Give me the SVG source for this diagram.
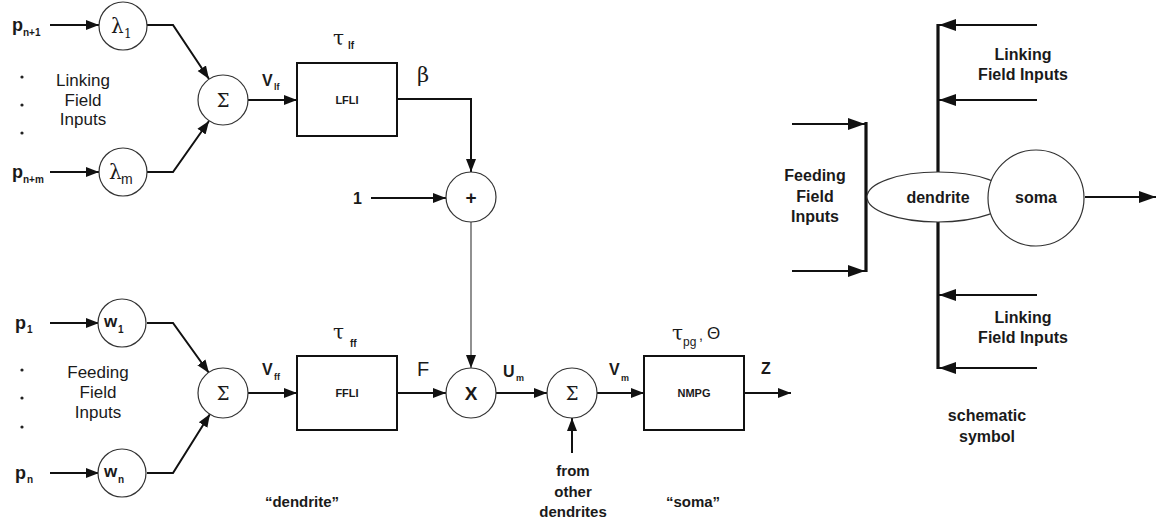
<svg xmlns="http://www.w3.org/2000/svg" width="1157" height="524" viewBox="0 0 1157 524">
  <style>
    .bg { fill: #ffffff; }
    .node { fill: #ffffff; stroke: #333333; stroke-width: 1.2; }
    .box { fill: #ffffff; stroke: #111111; stroke-width: 2; }
    .wire { fill: none; stroke: #111111; stroke-width: 2; }
    .thin { fill: none; stroke: #555555; stroke-width: 1.3; }
    .thick { fill: none; stroke: #111111; stroke-width: 3.2; }
    .sans { font-family: "Liberation Sans", Arial, sans-serif; fill: #1a1a1a; }
    .bold { font-family: "Liberation Sans", Arial, sans-serif; font-weight: bold; fill: #1a1a1a; }
    .greek { font-family: "DejaVu Serif", "Liberation Serif", serif; fill: #1a1a1a; }
    .mid { text-anchor: middle; }
  </style>
  <defs>
    <marker id="arrow" markerUnits="userSpaceOnUse" markerWidth="14" markerHeight="12" refX="13" refY="6" orient="auto">
      <path d="M0,1 L13,6 L0,11 z" fill="#111111"/>
    </marker>
    <marker id="arrowBig" markerUnits="userSpaceOnUse" markerWidth="18" markerHeight="14" refX="17" refY="7" orient="auto">
      <path d="M0,1 L17,7 L0,13 z" fill="#111111"/>
    </marker>
  </defs>

  <rect class="bg" x="0" y="0" width="1157" height="524"/>

  <!-- connectors -->
  <g id="connectors">
    <!-- linking field branch -->
    <line class="wire" x1="50" y1="25" x2="99" y2="25" marker-end="url(#arrow)"/>
    <line class="wire" x1="50" y1="172" x2="99" y2="172" marker-end="url(#arrow)"/>
    <polyline class="wire" points="147,25 173,25 209,79" marker-end="url(#arrow)"/>
    <polyline class="wire" points="147,172 173,172 209,121" marker-end="url(#arrow)"/>
    <line class="wire" x1="248" y1="100" x2="297" y2="100" marker-end="url(#arrow)"/>
    <polyline class="wire" points="397,99 471,99 471,172" marker-end="url(#arrow)"/>
    <line class="wire" x1="371" y1="198" x2="446" y2="198" marker-end="url(#arrow)"/>
    <line class="thin" x1="471" y1="222" x2="471" y2="368" marker-end="url(#arrow)"/>

    <!-- feeding field branch -->
    <line class="wire" x1="50" y1="323" x2="99" y2="323" marker-end="url(#arrow)"/>
    <line class="wire" x1="50" y1="473" x2="99" y2="473" marker-end="url(#arrow)"/>
    <polyline class="wire" points="147,323 173,323 209,373" marker-end="url(#arrow)"/>
    <polyline class="wire" points="147,473 173,473 210,414" marker-end="url(#arrow)"/>
    <line class="wire" x1="248" y1="393" x2="297" y2="393" marker-end="url(#arrow)"/>
    <line class="wire" x1="397" y1="393" x2="446" y2="393" marker-end="url(#arrow)"/>
    <line class="wire" x1="496" y1="393" x2="547" y2="393" marker-end="url(#arrow)"/>
    <line class="wire" x1="572" y1="453" x2="572" y2="418" marker-end="url(#arrow)"/>
    <line class="wire" x1="597" y1="393" x2="644" y2="393" marker-end="url(#arrow)"/>
    <line class="wire" x1="744" y1="393" x2="791" y2="393" marker-end="url(#arrow)"/>

    <!-- schematic symbol wiring -->
    <line class="thick" x1="938" y1="24" x2="938" y2="369"/>
    <line class="thick" x1="866" y1="122" x2="866" y2="272"/>
    <line class="wire" x1="1037" y1="25" x2="939" y2="25" marker-end="url(#arrowBig)"/>
    <line class="wire" x1="1037" y1="100" x2="939" y2="100" marker-end="url(#arrowBig)"/>
    <line class="wire" x1="1037" y1="295" x2="939" y2="295" marker-end="url(#arrowBig)"/>
    <line class="wire" x1="1037" y1="368" x2="939" y2="368" marker-end="url(#arrowBig)"/>
    <line class="wire" x1="792" y1="124" x2="865" y2="124" marker-end="url(#arrowBig)"/>
    <line class="wire" x1="792" y1="271" x2="865" y2="271" marker-end="url(#arrowBig)"/>
    <line class="wire" x1="1085" y1="197" x2="1156" y2="197" marker-end="url(#arrowBig)"/>
  </g>

  <!-- input labels -->
  <g id="linking-inputs">
    <text class="bold" x="12" y="31" font-size="18">p</text>
    <text class="bold" x="23" y="36" font-size="10">n+1</text>
    <text class="bold" x="12" y="178" font-size="18">p</text>
    <text class="bold" x="23" y="183" font-size="10">n+m</text>
    <circle cx="22" cy="77" r="1.6" fill="#222"/>
    <circle cx="22" cy="105" r="1.6" fill="#222"/>
    <circle cx="22" cy="133" r="1.6" fill="#222"/>
    <text class="sans mid" x="83" y="86" font-size="17" fill="#333">Linking</text>
    <text class="sans mid" x="83" y="106" font-size="17" fill="#333">Field</text>
    <text class="sans mid" x="83" y="125" font-size="17" fill="#333">Inputs</text>
  </g>

  <g id="feeding-inputs">
    <text class="bold" x="15" y="329" font-size="18">p</text>
    <text class="bold" x="27" y="333" font-size="10">1</text>
    <text class="bold" x="15" y="479" font-size="18">p</text>
    <text class="bold" x="27" y="483" font-size="10">n</text>
    <circle cx="22" cy="370" r="1.6" fill="#222"/>
    <circle cx="22" cy="398" r="1.6" fill="#222"/>
    <circle cx="22" cy="427" r="1.6" fill="#222"/>
    <text class="sans mid" x="98" y="378" font-size="17" fill="#333">Feeding</text>
    <text class="sans mid" x="98" y="398" font-size="17" fill="#333">Field</text>
    <text class="sans mid" x="98" y="418" font-size="17" fill="#333">Inputs</text>
  </g>

  <!-- weight nodes -->
  <g id="lambda-1">
    <circle class="node" cx="123" cy="26" r="24"/>
    <text class="greek" x="111" y="33" font-size="20">λ</text>
    <text class="greek" x="124" y="38" font-size="12">1</text>
  </g>
  <g id="lambda-m">
    <circle class="node" cx="123" cy="172" r="24"/>
    <text class="greek" x="109" y="179" font-size="20">λ</text>
    <text class="sans" x="121" y="184" font-size="14">m</text>
  </g>
  <g id="w-1">
    <circle class="node" cx="122" cy="323" r="24"/>
    <text class="bold" x="104" y="327" font-size="17">w</text>
    <text class="bold" x="118" y="333" font-size="10">1</text>
  </g>
  <g id="w-n">
    <circle class="node" cx="122" cy="473" r="24"/>
    <text class="bold" x="104" y="477" font-size="17">w</text>
    <text class="bold" x="118" y="483" font-size="10">n</text>
  </g>

  <!-- summing junctions -->
  <g id="sum-linking">
    <circle class="node" cx="223" cy="100" r="25"/>
    <text class="greek mid" x="223" y="107" font-size="18">Σ</text>
  </g>
  <g id="sum-feeding">
    <circle class="node" cx="223" cy="393" r="25"/>
    <text class="greek mid" x="223" y="400" font-size="18">Σ</text>
  </g>
  <g id="label-vlf">
    <text class="bold" x="262" y="86" font-size="16">V</text>
    <text class="bold" x="274" y="90" font-size="9">lf</text>
  </g>
  <g id="label-vff">
    <text class="bold" x="262" y="375" font-size="16">V</text>
    <text class="bold" x="274" y="380" font-size="9">ff</text>
  </g>

  <!-- leaky integrators -->
  <g id="lfli">
    <rect class="box" x="297" y="63" width="100" height="73"/>
    <text class="bold mid" x="347" y="104" font-size="11">LFLI</text>
    <text class="greek" x="333" y="45" font-size="20">τ</text>
    <text class="bold" x="348" y="49" font-size="10">lf</text>
    <text class="greek" x="417" y="82" font-size="21">β</text>
  </g>
  <g id="ffli">
    <rect class="box" x="297" y="356" width="100" height="74"/>
    <text class="bold mid" x="347" y="397" font-size="11">FFLI</text>
    <text class="greek" x="333" y="339" font-size="20">τ</text>
    <text class="bold" x="350" y="347" font-size="10">ff</text>
    <text class="sans" x="417" y="376" font-size="20">F</text>
  </g>

  <!-- modulation -->
  <g id="plus">
    <circle class="node" cx="471" cy="197" r="25"/>
    <text class="bold mid" x="471" y="204" font-size="19">+</text>
    <text class="bold" x="353" y="204" font-size="16">1</text>
  </g>
  <g id="times">
    <circle class="node" cx="471" cy="393" r="25"/>
    <text class="bold mid" x="471" y="400" font-size="19">X</text>
  </g>
  <g id="label-um">
    <text class="bold" x="503" y="377" font-size="16">U</text>
    <text class="bold" x="516" y="381" font-size="9">m</text>
  </g>

  <!-- membrane sum -->
  <g id="sum-membrane">
    <circle class="node" cx="572" cy="393" r="25"/>
    <text class="greek mid" x="572" y="400" font-size="18">Σ</text>
    <text class="bold mid" x="573" y="476" font-size="15">from</text>
    <text class="bold mid" x="573" y="497" font-size="15">other</text>
    <text class="bold mid" x="573" y="517" font-size="15">dendrites</text>
  </g>
  <g id="label-vm">
    <text class="bold" x="609" y="375" font-size="16">V</text>
    <text class="bold" x="621" y="381" font-size="9">m</text>
  </g>

  <!-- pulse generator -->
  <g id="nmpg">
    <rect class="box" x="644" y="356" width="100" height="74"/>
    <text class="bold mid" x="694" y="397" font-size="11">NMPG</text>
    <text class="greek" x="672" y="340" font-size="20">τ</text>
    <text class="sans" x="683" y="346" font-size="12">pg</text>
    <text class="sans" x="699" y="340" font-size="14">,</text>
    <text class="sans" x="707" y="339" font-size="17">Θ</text>
    <text class="bold" x="761" y="374" font-size="16">Z</text>
  </g>

  <g id="captions">
    <text class="bold mid" x="302" y="507" font-size="15">“dendrite”</text>
    <text class="bold mid" x="693" y="507" font-size="15">“soma”</text>
  </g>

  <!-- schematic symbol -->
  <g id="schematic">
    <ellipse class="node" cx="938" cy="197" rx="71" ry="25" stroke="#111" stroke-width="2"/>
    <text class="bold mid" x="938" y="203" font-size="16">dendrite</text>
    <circle class="node" cx="1036" cy="198" r="48" stroke="#111" stroke-width="2"/>
    <text class="bold mid" x="1036" y="203" font-size="16">soma</text>
    <text class="bold mid" x="1023" y="60" font-size="16">Linking</text>
    <text class="bold mid" x="1023" y="80" font-size="16">Field Inputs</text>
    <text class="bold mid" x="1023" y="323" font-size="16">Linking</text>
    <text class="bold mid" x="1023" y="343" font-size="16">Field Inputs</text>
    <text class="bold mid" x="815" y="181" font-size="16">Feeding</text>
    <text class="bold mid" x="815" y="202" font-size="16">Field</text>
    <text class="bold mid" x="815" y="222" font-size="16">Inputs</text>
    <text class="bold mid" x="987" y="421" font-size="16">schematic</text>
    <text class="bold mid" x="987" y="442" font-size="16">symbol</text>
  </g>
</svg>
